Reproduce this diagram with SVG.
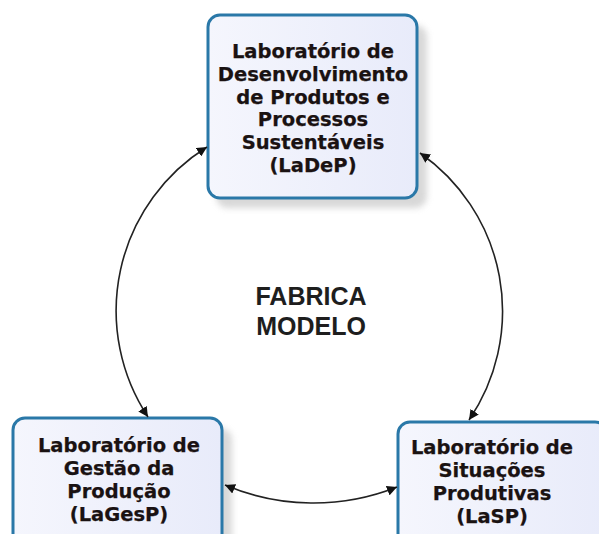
<svg xmlns="http://www.w3.org/2000/svg" width="599" height="534" viewBox="0 0 599 534">
  <defs>
    <linearGradient id="boxFill" x1="0" y1="0" x2="1" y2="0">
      <stop offset="0" stop-color="#f5f6fd"/>
      <stop offset="1" stop-color="#e8ebfa"/>
    </linearGradient>
    <filter id="shadow" x="-20%" y="-20%" width="150%" height="150%">
      <feGaussianBlur stdDeviation="3"/>
    </filter>
    <marker id="arrow" viewBox="0 0 10 10" refX="10" refY="5" markerWidth="10" markerHeight="10" markerUnits="userSpaceOnUse" orient="auto-start-reverse">
      <path d="M0,0 L10,5 L0,10 z" fill="#111"/>
    </marker>
    <style>
      .box { fill: url(#boxFill); stroke: #2a78a8; stroke-width: 3; }
      .shadow { fill: #c8c8c8; opacity: 0.7; filter: url(#shadow); }
      .label { font-family: "DejaVu Sans", Verdana, sans-serif; font-weight: bold; font-size: 19.5px; fill: #1a1212; stroke: #1a1212; stroke-width: 0.25; text-anchor: middle; }
      .title { font-family: "Liberation Sans", Arial, sans-serif; font-weight: bold; font-size: 25px; fill: #1e1e1e; text-anchor: middle; }
      .conn { fill: none; stroke: #222; stroke-width: 1.6; marker-start: url(#arrow); marker-end: url(#arrow); }
    </style>
  </defs>
  <rect width="599" height="534" fill="#ffffff"/>

  <g id="center-label">
    <text class="title" x="311" y="305">FABRICA</text>
    <text class="title" x="311" y="335">MODELO</text>
  </g>

  <g id="ladep">
    <rect class="shadow" x="216" y="25" width="211" height="183" rx="12"/>
    <rect class="box" x="208" y="15" width="209" height="183" rx="12"/>
    <text class="label" x="313" y="58">Laboratório de</text>
    <text class="label" x="313" y="81">Desenvolvimento</text>
    <text class="label" x="313" y="104">de Produtos e</text>
    <text class="label" x="313" y="126">Processos</text>
    <text class="label" x="313" y="149">Sustentáveis</text>
    <text class="label" x="313" y="172">(LaDeP)</text>
  </g>

  <g id="lagesp">
    <rect class="shadow" x="21" y="428" width="211" height="183" rx="12"/>
    <rect class="box" x="13" y="418" width="209" height="183" rx="12"/>
    <text class="label" x="119" y="452">Laboratório de</text>
    <text class="label" x="119" y="475">Gestão da</text>
    <text class="label" x="119" y="498">Produção</text>
    <text class="label" x="119" y="521">(LaGesP)</text>
  </g>

  <g id="lasp">
    <rect class="shadow" x="406" y="432" width="211" height="183" rx="12"/>
    <rect class="box" x="398" y="422" width="209" height="183" rx="12"/>
    <text class="label" x="492" y="454">Laboratório de</text>
    <text class="label" x="492" y="477">Situações</text>
    <text class="label" x="492" y="500">Produtivas</text>
    <text class="label" x="492" y="523">(LaSP)</text>
  </g>

  <g id="connectors">
    <path class="conn" d="M207,147 A193,193 0 0 0 148,417"/>
    <path class="conn" d="M420,153 A193,193 0 0 1 469,420"/>
    <path class="conn" d="M225,485 A226,226 0 0 0 397,487"/>
  </g>
</svg>
